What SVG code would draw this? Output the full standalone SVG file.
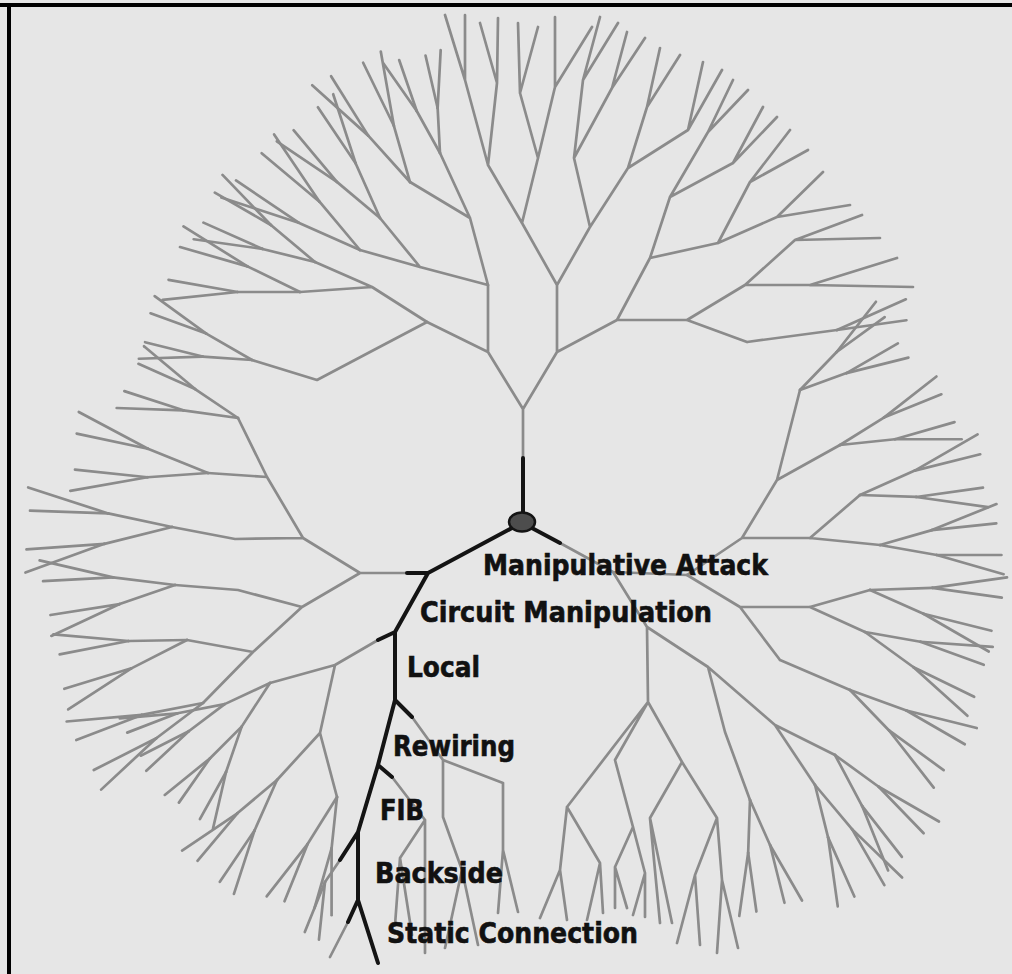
<svg xmlns="http://www.w3.org/2000/svg" width="1012" height="974" viewBox="0 0 1012 974">
<style>
.bg{fill:#e6e6e6}
.br{fill:none;stroke:#8b8b8b;stroke-width:2.7;stroke-linecap:round;stroke-linejoin:round}
.hl{fill:none;stroke:#141414;stroke-width:4;stroke-linecap:round;stroke-linejoin:round}
.lbl{font-family:"DejaVu Sans Condensed","Liberation Sans Narrow","Liberation Sans",sans-serif;font-weight:bold;font-size:29px;fill:#111;stroke:#111;stroke-width:0.6}
</style>
<defs>
<path id="lf" d="M0 0V-58" vector-effect="non-scaling-stroke"/>
<g id="k1"><use href="#lf" transform="rotate(-6)"/><use href="#lf" transform="rotate(10) scale(.93)"/></g>
<g id="k1m"><use href="#lf" transform="rotate(6)"/><use href="#lf" transform="rotate(-10) scale(.93)"/></g>
<g id="k2"><g transform="rotate(-14)"><path d="M0 0V-48" vector-effect="non-scaling-stroke"/><use href="#k1" y="-48"/></g><g transform="rotate(12)"><path d="M0 0V-45" vector-effect="non-scaling-stroke"/><use href="#k1m" y="-45"/></g></g>
<g id="k2m"><g transform="rotate(14)"><path d="M0 0V-48" vector-effect="non-scaling-stroke"/><use href="#k1m" y="-48"/></g><g transform="rotate(-12)"><path d="M0 0V-45" vector-effect="non-scaling-stroke"/><use href="#k1" y="-45"/></g></g>
<g id="k3"><g transform="rotate(-17)"><path d="M0 0V-52" vector-effect="non-scaling-stroke"/><use href="#k2" y="-52"/></g><g transform="rotate(15)"><path d="M0 0V-50" vector-effect="non-scaling-stroke"/><use href="#k2m" y="-50"/></g></g>
</defs>
<rect class="bg" x="0" y="0" width="1012" height="974"/>
<rect x="0" y="3" width="1012" height="4" fill="#000"/>
<rect x="7" y="3" width="4" height="971" fill="#000"/>
<g id="connectors">
<g class="br" id="tree">
<path d="M523 458V409M523 409L488 352M523 409L557 352M488 352V285M488 352L427 322M557 352V285M557 352L617 320M557 285L522 223M557 285L590 227M522 223L488 165M522 223L538 158M538 158L520 93M538 158L555 87M520 93L518 23M520 93L538 27M555 87L555 17M555 87L592 27M488 165L465 80M488 165L497 83M465 80L445 15M465 80L465 15M497 83L480 23M497 83L498 18M590 227L574 158M590 227L628 168M574 158L583 80M574 158L612 88M583 80L600 17M583 80L618 23M612 88L627 32M612 88L645 38M628 168L647 107M628 168L688 130M647 107L660 48M647 107L680 55M688 130L703 62M688 130L722 70M617 320L650 258M617 320L687 320M650 258L670 197M650 258L718 243M670 197L708 132M670 197L733 163M708 132L733 80M708 132L748 90M733 163L763 107M733 163L777 117M718 243L750 182M718 243L777 217M750 182L790 130M750 182L808 150M777 217L823 172M777 217L850 205M687 320L745 285M687 320L747 342M745 285L795 240M745 285L810 285M795 240L862 215M795 240L880 238M810 285L897 258M810 285L913 287M747 342L837 330"/>
<path d="M488 285L470 218M488 285L420 267M470 218L440 153M470 218L410 182M420 267L380 218M420 267L360 250M427 322L372 287M427 322L370 352M372 287L315 262M372 287L300 292M370 352L317 380L252 360"/>
<path d="M407 573H360M360 573L303 538M360 573L302 607M303 538L235 539L172 527M303 538L267 477M267 477L238 418M267 477L208 473M302 607L238 590L175 585M302 607L253 652M253 652L187 640M253 652L203 703M378 640L335 665M335 665L270 683M335 665L320 733M320 733L277 780M320 733L337 797M340 860L325 882M348 922L330 957"/>
<path d="M392 777L425 820M425 820V953M425 820L400 858M400 858L395 925M400 858L412 935M412 717L443 760M443 760V817M443 760L503 783M443 817L462 870M462 870L445 948M462 870L478 945M503 783V850M503 850L498 913M503 850L518 912"/>
<path d="M560 543L613 572L647 627M613 572L687 575M647 627L648 702M647 627L708 667M648 702L567 807M648 702L615 760M648 702L682 762M567 807L560 870M567 807L600 863M560 870L540 918M560 870L567 920M600 863L587 920M600 863L603 913M615 760L633 827M633 827L615 867M633 827L645 873M615 867L615 908M615 867L627 908M645 873L633 915M645 873L645 917M682 762L650 818M682 762L717 818M650 818L660 923M650 818L672 923M717 818L695 875M695 875L677 943M695 875L700 945M717 818L722 880M722 880L717 953M722 880L738 948M708 667L725 732L750 800M708 667L775 725M775 725L815 785M775 725L835 755"/>
<path d="M687 575L742 538M687 575L740 607M742 538L777 480M742 538L810 538M777 480L800 390M777 480L840 445M810 538L860 495M810 538L880 545M740 607L810 607M740 607L780 660M810 607L870 590M810 607L865 632M780 660L850 690"/>
<use href="#k2" transform="translate(440 153) rotate(-15)"/>
<use href="#k2" transform="translate(410 182) rotate(-28) scale(1.3)"/>
<use href="#k2m" transform="translate(380 218) rotate(-38) scale(1.25)"/>
<use href="#k2" transform="translate(360 250) rotate(-52) scale(1.4)"/>
<use href="#k2m" transform="translate(315 262) rotate(-64) scale(1.2)"/>
<use href="#k2" transform="translate(300 292) rotate(-76) scale(1.3)"/>
<use href="#k2m" transform="translate(252 360) rotate(-74) scale(1.1)"/>
<use href="#k2" transform="translate(238 418) rotate(-68) scale(1.15)"/>
<use href="#k2m" transform="translate(208 473) rotate(-82) scale(1.35)"/>
<use href="#k2" transform="translate(172 527) rotate(-90) scale(1.45)"/>
<use href="#k2m" transform="translate(175 585) rotate(-97) scale(1.3)"/>
<use href="#k2" transform="translate(187 640) rotate(-103) scale(1.3)"/>
<use href="#k2m" transform="translate(203 703) rotate(-115) scale(1.3)"/>
<use href="#k3" transform="translate(270 683) rotate(-130)"/>
<use href="#k2" transform="translate(277 780) rotate(-142) scale(1.15)"/>
<use href="#k2m" transform="translate(337 797) rotate(-162) scale(1.15)"/>
<use href="#k1" transform="translate(325 882) rotate(-168)"/>
<use href="#k1" transform="translate(837 330) rotate(72) scale(1.3)"/>
<use href="#k2" transform="translate(800 390) rotate(58) scale(1.1)"/>
<use href="#k2m" transform="translate(840 445) rotate(70) scale(1.15)"/>
<use href="#k2" transform="translate(860 495) rotate(80) scale(1.25)"/>
<use href="#k2m" transform="translate(880 545) rotate(86) scale(1.2)"/>
<use href="#k2" transform="translate(870 590) rotate(102) scale(1.3)"/>
<use href="#k2m" transform="translate(865 632) rotate(112) scale(1.25)"/>
<use href="#k2" transform="translate(850 690) rotate(124) scale(1.25)"/>
<use href="#k2m" transform="translate(835 755) rotate(138) scale(1.2)"/>
<use href="#k2" transform="translate(815 785) rotate(154) scale(1.2)"/>
<use href="#k2m" transform="translate(750 800) rotate(168) scale(1.1)"/>
</g>
<g class="hl" id="attack-path">
<path d="M523 458V514M512 528L428 573L407 573M428 573L395 632L378 640M395 632V700L412 717M395 700L378 765L392 777M378 765L358 832L340 860M358 832V900L348 922M358 900L378 963M530 527L560 543"/>
</g>
</g>
<g id="root"><ellipse cx="522" cy="522" rx="13" ry="9.5" fill="#4d4d4d" stroke="#141414" stroke-width="2.5"/></g>
<g id="n-manipulative-attack"><text class="lbl" x="483" y="575" textLength="285" lengthAdjust="spacingAndGlyphs">Manipulative Attack</text></g>
<g id="n-circuit-manipulation"><text class="lbl" x="420" y="622" textLength="292" lengthAdjust="spacingAndGlyphs">Circuit Manipulation</text></g>
<g id="n-local"><text class="lbl" x="407" y="677" textLength="73" lengthAdjust="spacingAndGlyphs">Local</text></g>
<g id="n-rewiring"><text class="lbl" x="393" y="756" textLength="122" lengthAdjust="spacingAndGlyphs">Rewiring</text></g>
<g id="n-fib"><text class="lbl" x="380" y="820" textLength="44" lengthAdjust="spacingAndGlyphs">FIB</text></g>
<g id="n-backside"><text class="lbl" x="375" y="883" textLength="128" lengthAdjust="spacingAndGlyphs">Backside</text></g>
<g id="n-static-connection"><text class="lbl" x="387" y="943" textLength="251" lengthAdjust="spacingAndGlyphs">Static Connection</text></g>
</svg>
